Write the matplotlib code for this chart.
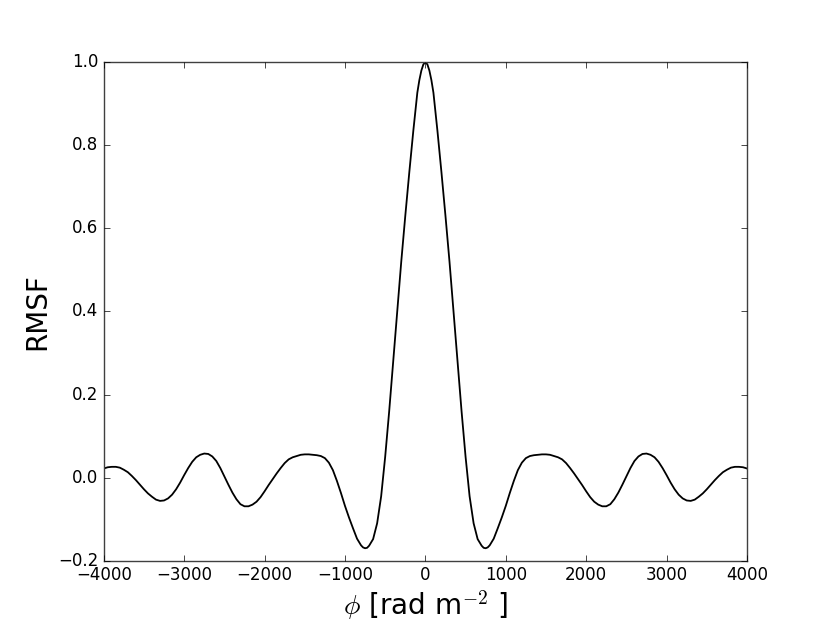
import numpy as np
import matplotlib
matplotlib.use("Agg")
import matplotlib.pyplot as plt

# Faraday depth [rad m^-2] and RMSF values
phi_neg = [-4000, -3950, -3900, -3850, -3800, -3750, -3700, -3650, -3600, -3550,
           -3500, -3450, -3400, -3350, -3300, -3250, -3200, -3150, -3100, -3050,
           -3000, -2950, -2900, -2850, -2800, -2750, -2700, -2650, -2600, -2550,
           -2500, -2450, -2400, -2350, -2300, -2250, -2200, -2150, -2100, -2050,
           -2000, -1950, -1900, -1850, -1800, -1750, -1700, -1650, -1600, -1550,
           -1500, -1450, -1400, -1350, -1300, -1250, -1200, -1150, -1100, -1050,
           -1000, -950, -900, -850, -800, -775, -750, -725, -700, -650,
           -600, -550, -500, -450, -400, -350, -300, -250, -200, -150,
           -100, -75, -50, -25]
rmsf_neg = [0.022, 0.025, 0.026, 0.026, 0.024, 0.019, 0.013, 0.004, -0.006, -0.017,
            -0.028, -0.038, -0.046, -0.053, -0.056, -0.055, -0.050, -0.041, -0.028, -0.012,
            0.006, 0.023, 0.038, 0.049, 0.055, 0.058, 0.057, 0.051, 0.040, 0.023,
            0.003, -0.017, -0.036, -0.052, -0.064, -0.069, -0.069, -0.065, -0.058, -0.047,
            -0.033, -0.018, -0.004, 0.010, 0.023, 0.035, 0.044, 0.049, 0.052, 0.055,
            0.056, 0.056, 0.055, 0.054, 0.052, 0.047, 0.036, 0.018, -0.008, -0.037,
            -0.068, -0.096, -0.122, -0.147, -0.163, -0.168, -0.170, -0.169, -0.164, -0.148,
            -0.110, -0.045, 0.050, 0.160, 0.280, 0.400, 0.520, 0.630, 0.735, 0.835,
            0.927, 0.957, 0.980, 0.995]

phi_pos = [0, 25, 50, 75, 100, 150, 200, 250, 300, 350,
           400, 450, 500, 550, 600, 650, 700, 725, 750, 775,
           800, 850, 900, 950, 1000, 1050, 1100, 1150, 1200, 1250,
           1300, 1350, 1400, 1450, 1500, 1550, 1600, 1650, 1700, 1750,
           1800, 1850, 1900, 1950, 2000, 2050, 2100, 2150, 2200, 2250,
           2300, 2350, 2400, 2450, 2500, 2550, 2600, 2650, 2700, 2750,
           2800, 2850, 2900, 2950, 3000, 3050, 3100, 3150, 3200, 3250,
           3300, 3350, 3400, 3450, 3500, 3550, 3600, 3650, 3700, 3750,
           3800, 3850, 3900, 3950, 4000]
rmsf_pos = [1.000, 0.995, 0.980, 0.957, 0.927, 0.835, 0.735, 0.630, 0.520, 0.400,
            0.280, 0.160, 0.050, -0.045, -0.110, -0.148, -0.164, -0.169, -0.170, -0.168,
            -0.163, -0.147, -0.122, -0.096, -0.068, -0.037, -0.008, 0.018, 0.036, 0.047,
            0.052, 0.054, 0.055, 0.056, 0.056, 0.055, 0.052, 0.049, 0.044, 0.035,
            0.023, 0.010, -0.004, -0.018, -0.033, -0.047, -0.058, -0.065, -0.069, -0.069,
            -0.064, -0.052, -0.036, -0.017, 0.003, 0.023, 0.040, 0.051, 0.057, 0.058,
            0.055, 0.049, 0.038, 0.023, 0.006, -0.012, -0.028, -0.041, -0.050, -0.055,
            -0.056, -0.053, -0.046, -0.038, -0.028, -0.017, -0.006, 0.004, 0.013, 0.019,
            0.024, 0.026, 0.026, 0.025, 0.022]

phi = np.array(phi_neg + phi_pos)
rmsf = np.array(rmsf_neg + rmsf_pos)

plt.style.use('classic')
fig = plt.figure(figsize=(8.3, 6.23), facecolor='white')
ax = fig.add_subplot(111)
ax.plot(phi, rmsf, color='k', lw=1.3, solid_joinstyle='round')
ax.set_xlim(-4000, 4000)
ax.set_ylim(-0.2, 1.0)
ax.set_xticks([-4000, -3000, -2000, -1000, 0, 1000, 2000, 3000, 4000])
ax.set_yticks([-0.2, 0.0, 0.2, 0.4, 0.6, 0.8, 1.0])
ax.tick_params(labelsize=12)
for s in ax.spines.values():
    s.set_color('#404040')
ax.set_xlabel(r'$\phi$ [rad m$^{-2}$ ]', fontsize=20, labelpad=3)
ax.set_ylabel('RMSF', fontsize=20)

fig.savefig('out.png', dpi=100, facecolor='white')
